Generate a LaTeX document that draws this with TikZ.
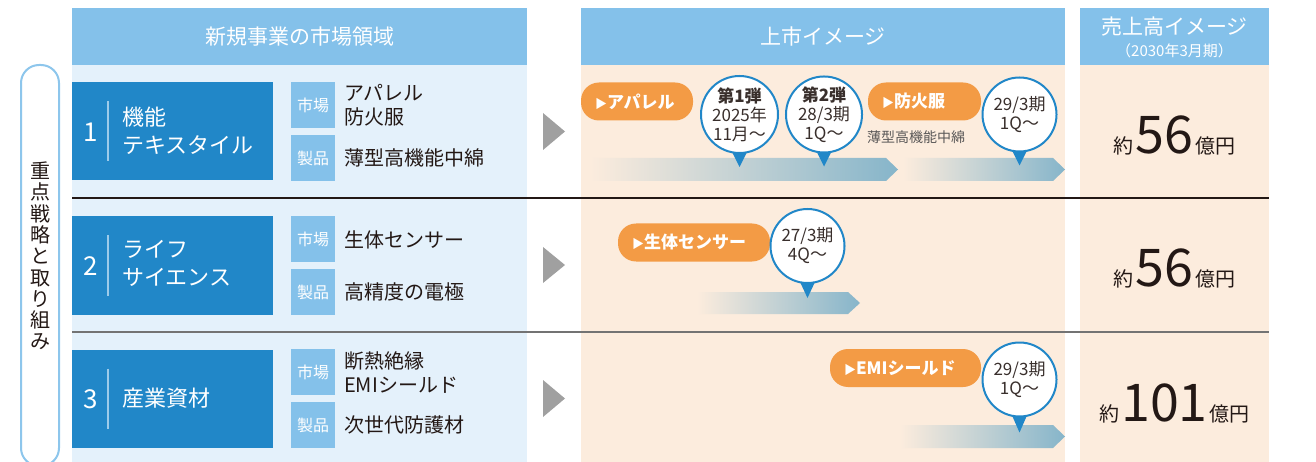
\documentclass[tikz,border=0pt]{standalone}
\usepackage{fontspec}
\setmainfont{Noto Sans CJK JP}
\newcommand\fsz[2]{\fontsize{#1}{#2}\selectfont}
\definecolor{hblue}{HTML}{84C1EA}
\definecolor{panelblue}{HTML}{E4F1FB}
\definecolor{beige}{HTML}{FCECDD}
\definecolor{boxblue}{HTML}{2187C8}
\definecolor{orng}{HTML}{F39B45}
\definecolor{barblue}{HTML}{86B5CA}
\definecolor{txtdark}{HTML}{231815}
\definecolor{txtgray}{HTML}{595757}
\definecolor{trigray}{HTML}{A0A0A0}
\definecolor{lblue}{HTML}{8DC6EC}
\definecolor{divcol}{HTML}{9DCBEA}
\begin{document}
\begin{tikzpicture}[x=1pt,y=-1pt,
  hdr/.style={fill=hblue, text=white, inner sep=0pt, minimum height=57pt, font=\fsz{21}{25}},
  bluebox/.style={fill=boxblue, inner sep=0pt, minimum width=201pt, minimum height=98pt},
  numtxt/.style={text=white, font=\fsz{26}{28}},
  boxtxt/.style={text=white, font=\fsz{22}{28}, align=left, anchor=west, inner sep=0pt},
  tag/.style={fill=hblue, text=white, inner sep=0pt, minimum width=44pt, minimum height=46pt, font=\fsz{16}{18}},
  mtxt/.style={text=txtdark, font=\fsz{20}{24}, align=left, anchor=west, inner sep=0pt},
  tri/.style={fill=trigray},
  pill/.style={fill=orng, rounded corners=18pt, inner sep=0pt, minimum height=38pt},
  pilltxt/.style={text=white, font=\bfseries\fsz{17}{20}, anchor=west, inner sep=0pt},
  callout/.style={circle, draw=boxblue, line width=2pt, fill=white, minimum size=74pt, inner sep=0pt, align=center, text=txtdark!90, font=\fsz{17}{19}},
  ptr/.style={fill=boxblue},
  bar/.style={left color=beige, right color=barblue},
  amt/.style={text=txtdark, anchor=base, inner sep=0pt},
  divline/.style={divcol, line width=2pt}
]
\useasboundingbox (0,0) rectangle (1316,462);

% panels
\fill[panelblue] (72,65) rectangle (527,462);
\fill[beige] (581,65) rectangle (1065,462);
\fill[beige] (1080,65) rectangle (1269,462);

% separators
\draw[txtdark, line width=1.2pt] (72,198) -- (1269,198);
\draw[black!55, line width=1.5pt] (72,332) -- (1269,332);

% headers
\node[hdr, minimum width=455pt] (h1) at (299.5,36.5) {新規事業の市場領域};
\node[hdr, minimum width=484pt] (h2) at (823,36.5) {上市イメージ};
\node[hdr, minimum width=189pt] (h3) at (1174.5,36.5) {};
\node[text=white, font=\fsz{21}{25}, inner sep=0pt] (h3a) at (1174.5,27) {売上高イメージ};
\node[text=white, font=\fsz{15}{17}, inner sep=0pt] (h3b) at (1174.5,51) {（2030年3月期）};

% vertical label
\draw[lblue, line width=2pt, fill=white, rounded corners=18pt] (21,65) rectangle (59,466);
\node[font=\fsz{20}{21.3}, align=center, text=txtdark, inner sep=0pt] (vl) at (40,256) {重\\点\\戦\\略\\と\\取\\り\\組\\み};

% row 1 left
\node[bluebox] (b1) at (172.5,131) {};
\node[numtxt] (n1) at (91,132) {1};
\draw[divline] ([xshift=36pt,yshift=30pt]b1.west) -- ([xshift=36pt,yshift=-30pt]b1.west);
\node[boxtxt] (t1) at (122,131) {機能\\テキスタイル};
\node[tag] (m1) at (313,105) {市場};
\node[tag] (p1) at (313,158) {製品};
\node[mtxt] (mt1) at (344,105.5) {アパレル\\防火服};
\node[mtxt] (pt1) at (344,158) {薄型高機能中綿};
\fill[tri] (543,113) -- (565,131.5) -- (543,150) -- cycle;

% row 2 left
\node[bluebox] (b2) at (172.5,265.5) {};
\node[numtxt] (n2) at (91,266) {2};
\draw[divline] ([xshift=36pt,yshift=30pt]b2.west) -- ([xshift=36pt,yshift=-30pt]b2.west);
\node[boxtxt] (t2) at (122,263) {ライフ\\サイエンス};
\node[tag] (m2) at (313,239) {市場};
\node[tag] (p2) at (313,292) {製品};
\node[mtxt] (mt2) at (344,239.5) {生体センサー};
\node[mtxt] (pt2) at (344,292) {高精度の電極};
\fill[tri] (543,247) -- (565,265) -- (543,283) -- cycle;

% row 3 left
\node[bluebox] (b3) at (172.5,398.5) {};
\node[numtxt] (n3) at (91,399) {3};
\draw[divline] ([xshift=36pt,yshift=30pt]b3.west) -- ([xshift=36pt,yshift=-30pt]b3.west);
\node[boxtxt] (t3) at (122,398.5) {産業資材};
\node[tag] (m3) at (313,372) {市場};
\node[tag] (p3) at (313,425) {製品};
\node[mtxt] (mt3) at (344,373) {断熱絶縁\\EMIシールド};
\node[mtxt] (pt3) at (344,425) {次世代防護材};
\fill[tri] (543,380) -- (565,398.5) -- (543,417) -- cycle;

% bars
\shade[bar] (590,158) -- (886,158) -- (898,169.5) -- (886,181) -- (590,181) -- cycle;
\shade[bar] (903,158) -- (1053,158) -- (1065,169.5) -- (1053,181) -- (903,181) -- cycle;
\shade[bar] (697,292) -- (848,292) -- (860,303) -- (848,314) -- (697,314) -- cycle;
\shade[bar] (900,425) -- (1053,425) -- (1065,436.5) -- (1053,448) -- (900,448) -- cycle;

% pills
\node[pill, minimum width=112pt] (pl1) at (637,101.5) {};
\node[pilltxt] (plt1) at ([xshift=14pt]pl1.west) {{\fsz{12}{12}▶}アパレル};
\node[pill, minimum width=113pt] (pl2) at (924.5,101.5) {};
\node[pilltxt] (plt2) at ([xshift=14pt]pl2.west) {{\fsz{12}{12}▶}防火服};
\node[text=txtgray, font=\fsz{14}{16}, anchor=west, inner sep=0pt] (sub2) at (867,137) {薄型高機能中綿};
\node[pill, minimum width=152pt] (pl3) at (694,242.5) {};
\node[pilltxt] (plt3) at ([xshift=14pt]pl3.west) {{\fsz{12}{12}▶}生体センサー};
\node[pill, minimum width=151pt] (pl4) at (905.5,368) {};
\node[pilltxt] (plt4) at ([xshift=14pt]pl4.west) {{\fsz{12}{12}▶}EMIシールド};

% callouts
\node[callout] (c1) at (739.5,114.5) {\textbf{第1弾}\\2025年\\11月〜};
\fill[ptr] ([xshift=-7pt,yshift=1pt]c1.south) -- ([xshift=7pt,yshift=1pt]c1.south) -- ([yshift=-13pt]c1.south) -- cycle;
\node[callout] (c2) at (824,114.5) {\textbf{第2弾}\\28/3期\\1Q〜};
\fill[ptr] ([xshift=-7pt,yshift=1pt]c2.south) -- ([xshift=7pt,yshift=1pt]c2.south) -- ([yshift=-13pt]c2.south) -- cycle;
\node[callout] (c3) at (1019.5,114.5) {29/3期\\1Q〜};
\fill[ptr] ([xshift=-7pt,yshift=1pt]c3.south) -- ([xshift=7pt,yshift=1pt]c3.south) -- ([yshift=-13pt]c3.south) -- cycle;
\node[callout] (c4) at (807.5,246) {27/3期\\4Q〜};
\fill[ptr] ([xshift=-7pt,yshift=1pt]c4.south) -- ([xshift=7pt,yshift=1pt]c4.south) -- ([yshift=-14pt]c4.south) -- cycle;
\node[callout] (c5) at (1019.5,379.5) {29/3期\\1Q〜};
\fill[ptr] ([xshift=-7pt,yshift=1pt]c5.south) -- ([xshift=7pt,yshift=1pt]c5.south) -- ([yshift=-15pt]c5.south) -- cycle;

% amounts
\node[amt] (a1) at (1174.5,154) {{\fsz{20}{20}約}\,{\fsz{52}{52}56}\,{\fsz{20}{20}億円}};
\node[amt] (a2) at (1174.5,287) {{\fsz{20}{20}約}\,{\fsz{52}{52}56}\,{\fsz{20}{20}億円}};
\node[amt] (a3) at (1174.5,421) {{\fsz{20}{20}約}\,{\fsz{52}{52}101}\,{\fsz{20}{20}億円}};
\end{tikzpicture}
\end{document}
